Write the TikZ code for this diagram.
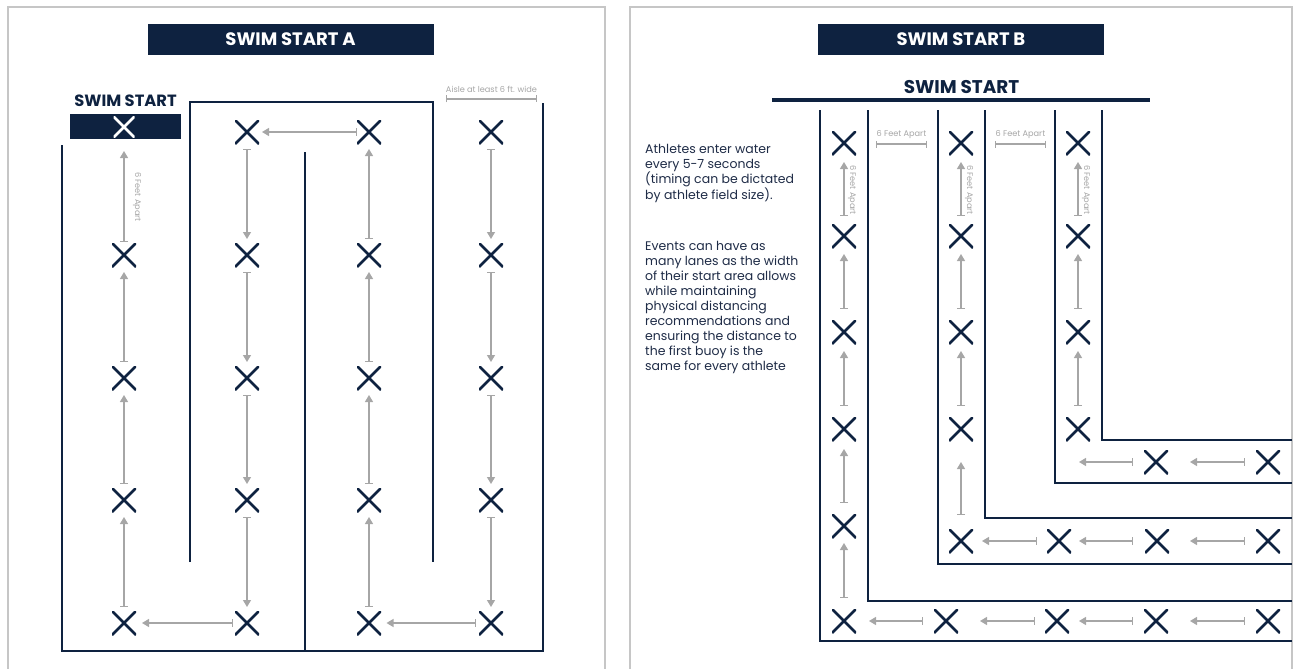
\documentclass[tikz,border=0pt]{standalone}
\usepackage{fontspec}
\setmainfont{Poppins}
\usetikzlibrary{arrows.meta}
\definecolor{navy}{HTML}{0E2240}
\definecolor{agray}{HTML}{A6A6A6}
\definecolor{fgray}{HTML}{C6C6C6}
\definecolor{tnavy}{HTML}{1F2C47}
\tikzset{
  xm/.style={minimum size=24pt, inner sep=0pt, outer sep=0pt,
    path picture={\draw[line width=2.8pt, #1]
      (path picture bounding box.south west) -- (path picture bounding box.north east)
      (path picture bounding box.north west) -- (path picture bounding box.south east);}},
  xm/.default=navy,
  wall/.style={navy, line width=2pt},
  frame/.style={fgray, line width=2pt},
  flow/.style={agray, line width=1.3pt, {Bar[width=8pt]}-{Triangle[length=7pt,width=8pt]}},
  lup/.style={flow, shorten <=4pt, shorten >=5pt},
  ldown/.style={flow, shorten <=5pt, shorten >=4pt},
  rup/.style={flow, shorten <=11pt, shorten >=6pt},
  dim/.style={agray, line width=1.2pt, {Bar[width=7pt]}-{Bar[width=7pt]}},
  small/.style={text=agray, font=\fontsize{8.2}{9}\selectfont, inner sep=0pt},
  titlebar/.style={fill=navy, text=white, font=\bfseries\fontsize{18}{20}\selectfont,
    minimum width=286pt, minimum height=31pt, inner sep=0pt},
  para/.style={text=tnavy, font=\fontsize{12.5}{15}\selectfont, align=left, inner sep=0pt, anchor=north west}
}
\begin{document}
\begin{tikzpicture}[x=1pt,y=-1pt]
\useasboundingbox (0,0) rectangle (1294,669);
% panel frames
\draw[frame] (8,672) -- (8,7) -- (605,7) -- (605,672);
\draw[frame] (630,672) -- (630,7) -- (1292,7) -- (1292,672);

% ================= LEFT PANEL =================
\node[titlebar] (ta) at (290.5,39.5) {SWIM START A};
\node[text=navy, font=\bfseries\fontsize{16.3}{18}\selectfont, inner sep=0pt] (sslab) at (125.5,101) {SWIM START};
\node[fill=navy, minimum width=111pt, minimum height=25pt, inner sep=0pt] (sbox) at (125.5,126.5) {};

% walls
\draw[wall] (62,145) -- (62,651) -- (543,651) -- (543,103);
\draw[wall] (305,152) -- (305,651);
\draw[wall] (190,562) -- (190,102) -- (433,102) -- (433,562);

% aisle dimension
\coordinate (ai1) at (446,99);
\coordinate (ai2) at (537,99);
\draw[dim] (ai1) -- (ai2);
\node[small] (ailab) at (491.5,89) {Aisle at least 6 ft. wide};

% X marks
\node[xm=white, minimum size=21pt] (a1) at (124,127) {};
\foreach \n/\y in {2/255,3/378,4/500,5/623} {
  \node[xm] (a\n) at (124,\y) {};
}
\foreach \n/\y in {1/132,2/255,3/378,4/500,5/623} {
  \node[xm] (b\n) at (247,\y) {};
  \node[xm] (c\n) at (369,\y) {};
  \node[xm] (d\n) at (491,\y) {};
}

% arrows
\draw[flow, shorten <=1pt, shorten >=13.5pt] (a2) -- (a1);
\draw[lup] (a3) -- (a2);
\draw[lup] (a4) -- (a3);
\draw[lup] (a5) -- (a4);
\draw[ldown] (b1) -- (b2);
\draw[ldown] (b2) -- (b3);
\draw[ldown] (b3) -- (b4);
\draw[ldown] (b4) -- (b5);
\draw[lup] (c5) -- (c4);
\draw[lup] (c4) -- (c3);
\draw[lup] (c3) -- (c2);
\draw[lup] (c2) -- (c1);
\draw[ldown] (d1) -- (d2);
\draw[ldown] (d2) -- (d3);
\draw[ldown] (d3) -- (d4);
\draw[ldown] (d4) -- (d5);
\draw[flow, shorten <=0pt, shorten >=3pt] (c1) -- (b1);
\draw[flow, shorten <=2pt, shorten >=6pt] (b5) -- (a5);
\draw[flow, shorten <=3pt, shorten >=5.5pt] (d5) -- (c5);
\node[small, rotate=-90] (fa0) at (137,197) {6 Feet Apart};

% ================= RIGHT PANEL =================
\node[titlebar] (tb) at (961,39.5) {SWIM START B};
\node[text=navy, font=\bfseries\fontsize{18.4}{20}\selectfont, inner sep=0pt] (sslabb) at (961.5,87) {SWIM START};
\coordinate (sl1) at (772,100);
\coordinate (sl2) at (1150,100);
\draw[navy, line width=4pt] (sl1) -- (sl2);

% lane walls
\draw[wall] (820,110) -- (820,641) -- (1292,641);
\draw[wall] (868,110) -- (868,601) -- (1292,601);
\draw[wall] (938,110) -- (938,564) -- (1292,564);
\draw[wall] (985,110) -- (985,518) -- (1292,518);
\draw[wall] (1055,110) -- (1055,483) -- (1292,483);
\draw[wall] (1102,110) -- (1102,440) -- (1292,440);

% distance brackets
\coordinate (da1) at (876,144); \coordinate (da2) at (927,144);
\coordinate (db1) at (995,144); \coordinate (db2) at (1046,144);
\draw[dim] (da1) -- (da2);
\draw[dim] (db1) -- (db2);
\node[small] (fb1) at (901.5,134.5) {6 Feet Apart};
\node[small] (fb2) at (1020.5,134.5) {6 Feet Apart};

% text
\node[para] (txt1) at (645,144) {Athletes enter water\\every 5-7 seconds\\(timing can be dictated\\by athlete field size).};
\node[para] (txt2) at (645,241) {Events can have as\\many lanes as the width\\of their start area allows\\while maintaining\\physical distancing\\recommendations and\\ensuring the distance to\\the first buoy is the\\same for every athlete};

% X marks lane 1
\foreach \n/\y in {1/143,2/236,3/332,4/429,5/526,6/621} {
  \node[xm] (p\n) at (844,\y) {};
}
\node[xm] (r2) at (946,621) {};
\node[xm] (r3) at (1057,621) {};
\node[xm] (r4) at (1156,621) {};
\node[xm] (r5) at (1268,621) {};
% lane 2
\foreach \n/\y in {1/143,2/236,3/332,4/429,5/541} {
  \node[xm] (q\n) at (961,\y) {};
}
\node[xm] (s2) at (1059,541) {};
\node[xm] (s3) at (1157,541) {};
\node[xm] (s4) at (1268,541) {};
% lane 3
\foreach \n/\y in {1/143,2/236,3/332,4/429} {
  \node[xm] (t\n) at (1078,\y) {};
}
\node[xm] (u1) at (1156,462) {};
\node[xm] (u2) at (1268,462) {};
\coordinate (uend) at (1079,462);

% vertical arrows
\draw[flow, shorten <=8pt, shorten >=7pt] (p2) -- (p1);
\draw[rup] (p3) -- (p2);
\draw[rup, shorten >=7pt] (p4) -- (p3);
\draw[rup, shorten >=8pt] (p5) -- (p4);
\draw[rup, shorten >=5pt] (p6) -- (p5);
\draw[flow, shorten <=8pt, shorten >=7pt] (q2) -- (q1);
\draw[rup] (q3) -- (q2);
\draw[rup, shorten >=7pt] (q4) -- (q3);
\draw[flow, shorten <=14pt, shorten >=21pt] (q5) -- (q4);
\draw[flow, shorten <=8pt, shorten >=7pt] (t2) -- (t1);
\draw[rup] (t3) -- (t2);
\draw[rup, shorten >=7pt] (t4) -- (t3);
\node[small, rotate=-90] (fl1) at (852,190) {6 Feet Apart};
\node[small, rotate=-90] (fl2) at (969,190) {6 Feet Apart};
\node[small, rotate=-90] (fl3) at (1086,190) {6 Feet Apart};

% horizontal arrows
\draw[flow, shorten <=11pt, shorten >=13pt] (r2) -- (p6);
\draw[flow, shorten <=10pt, shorten >=22pt] (r3) -- (r2);
\draw[flow, shorten <=11pt, shorten >=10pt] (r4) -- (r3);
\draw[flow, shorten <=11pt, shorten >=22pt] (r5) -- (r4);
\draw[flow, shorten <=10pt, shorten >=9pt] (s2) -- (q5);
\draw[flow, shorten <=12pt, shorten >=8pt] (s3) -- (s2);
\draw[flow, shorten <=11pt, shorten >=21pt] (s4) -- (s3);
\draw[flow, shorten <=11pt] (u1) -- (uend);
\draw[flow, shorten <=11pt, shorten >=22pt] (u2) -- (u1);
\end{tikzpicture}
\end{document}
